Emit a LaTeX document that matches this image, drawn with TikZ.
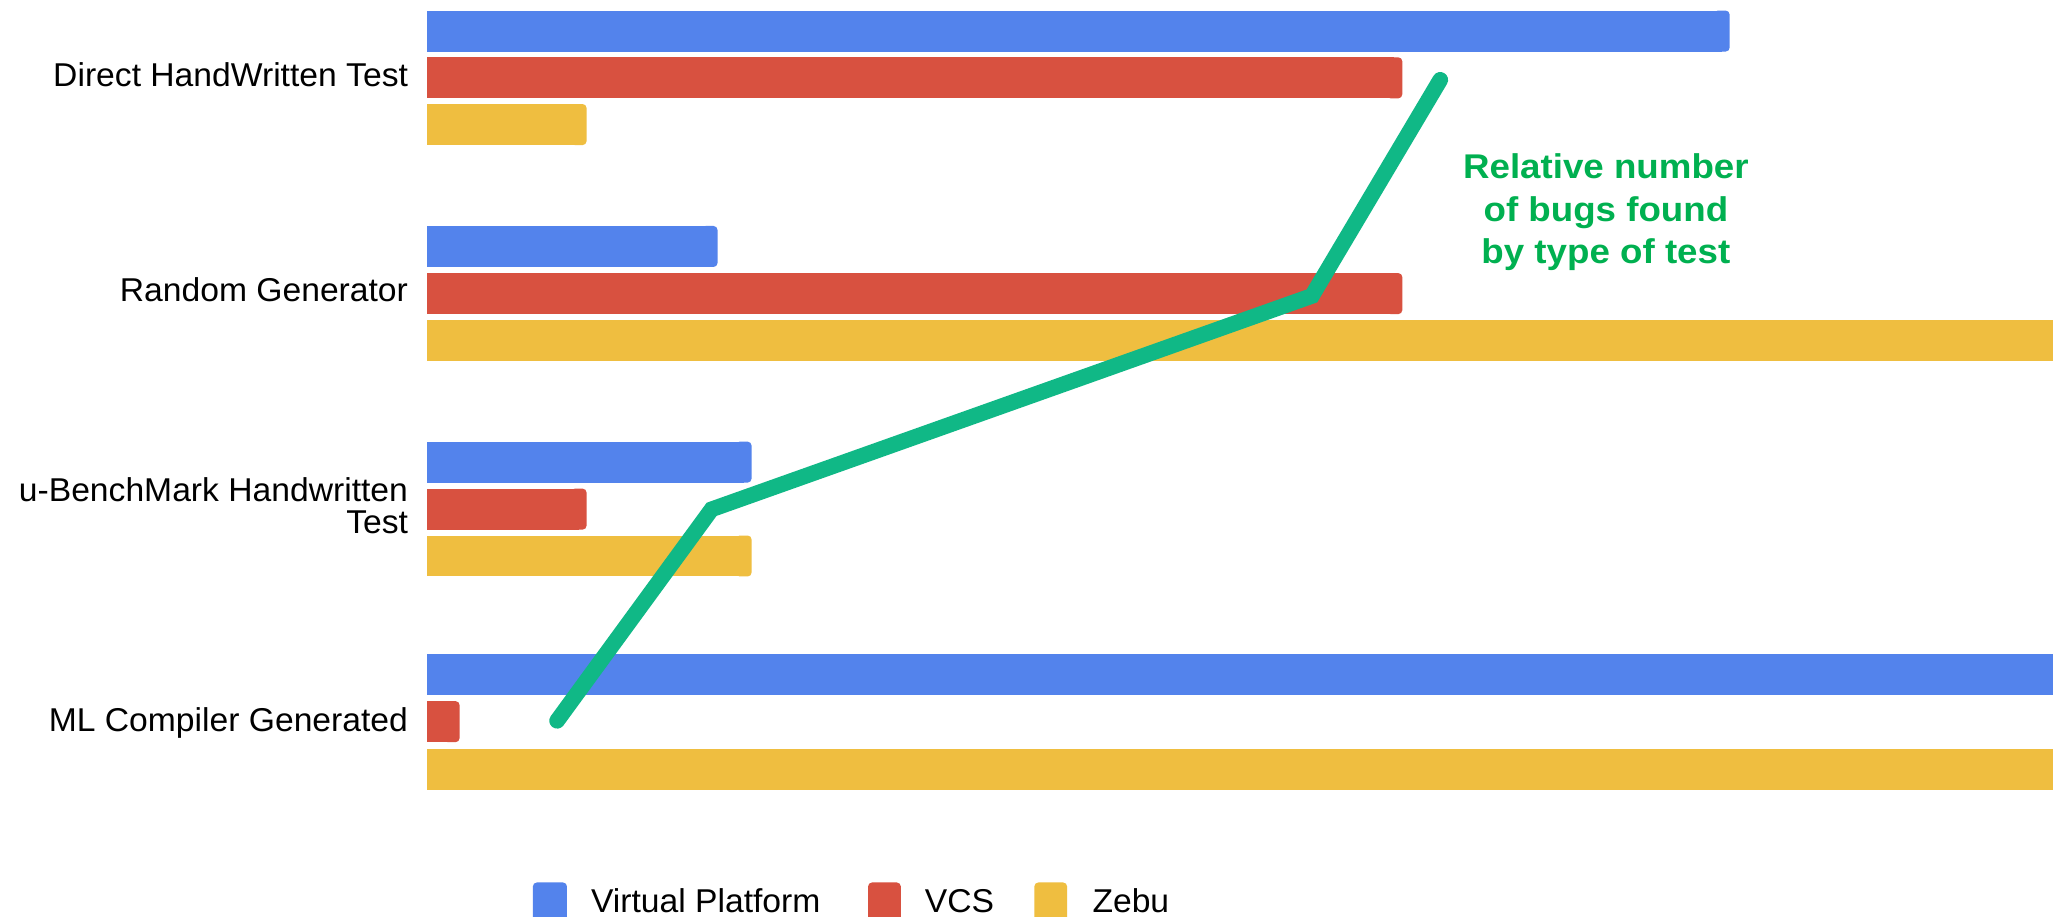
\documentclass[tikz,border=0pt]{standalone}
\usepackage{fontspec}
\setmainfont{Liberation Sans}
\newfontfamily\labfont[FakeStretch=1.02]{Liberation Sans}
\newfontfamily\notefont[FakeStretch=1.07]{Liberation Sans}
\definecolor{vpblue}{RGB}{83,131,236}
\definecolor{vcsred}{RGB}{216,81,64}
\definecolor{zebuyellow}{RGB}{239,190,64}
\definecolor{trendgreen}{RGB}{16,184,134}
\definecolor{notegreen}{RGB}{0,176,80}
\newcommand\chartbar[3]{% color, top y, right x
  \fill[#1] (326,#2) rectangle ({#3-6},{#2+31.3});
  \fill[#1,rounded corners=1.5pt] ({#3-12},#2) rectangle (#3,{#2+31.3});
}
\begin{document}
\begin{tikzpicture}[x=0.5pt,y=-0.5pt,
  lab/.style={font=\labfont\fontsize{12.6pt}{12.1pt}\selectfont, inner sep=0pt, text=black},
  note/.style={font=\notefont\bfseries\fontsize{13.1pt}{16.3pt}\selectfont, text=notegreen, align=center, inner sep=0pt},
  trend/.style={draw=trendgreen, line width=6pt, line cap=round, line join=miter},
  legsq/.style={rounded corners=1.5pt}]
\useasboundingbox (0,0) rectangle (1568,700);
\fill[white] (0,0) rectangle (1568,700);

% group 1: Direct HandWritten Test
\chartbar{vpblue}{8.1}{1321}
\chartbar{vcsred}{43.8}{1071}
\chartbar{zebuyellow}{79.5}{448}
% group 2: Random Generator
\chartbar{vpblue}{172.6}{548}
\chartbar{vcsred}{208.6}{1071}
\fill[zebuyellow] (326,244.2) rectangle (1568,275.5);
% group 3: u-BenchMark Handwritten Test
\chartbar{vpblue}{337.3}{574}
\chartbar{vcsred}{373.2}{448}
\chartbar{zebuyellow}{409}{574}
% group 4: ML Compiler Generated
\fill[vpblue] (326,499.2) rectangle (1568,530.6);
\chartbar{vcsred}{535.5}{351}
\fill[zebuyellow] (326,571.7) rectangle (1568,603.2);

% category labels
\node[lab, anchor=base east] (ldirect) at (312,66.2) {Direct HandWritten Test};
\node[lab, anchor=base east] (lrandom) at (312,230.4) {Random Generator};
\node[lab, anchor=north east, align=right] (lbench) at (312,364.5) {u-BenchMark Handwritten\\Test};
\node[lab, anchor=base east] (lml) at (312,558.4) {ML Compiler Generated};

% trend line
\coordinate (t1) at (425.5,550.5);
\coordinate (t2) at (543.5,389);
\coordinate (t3) at (1002,226);
\coordinate (t4) at (1100,61);
\draw[trend] (t1) -- (t2) -- (t3) -- (t4);

% annotation
\node[note, anchor=north] (note) at (1226.5,117) {Relative number\\of bugs found\\by type of test};

% legend
\fill[vpblue, legsq] (407,674) rectangle (433,706);
\node[lab, anchor=base west] (lgvp) at (451,697) {Virtual Platform};
\fill[vcsred, legsq] (663,674) rectangle (688,706);
\node[lab, anchor=base west] (lgvcs) at (706,697) {VCS};
\fill[zebuyellow, legsq] (790,674) rectangle (815,706);
\node[lab, anchor=base west] (lgzebu) at (834,697) {Zebu};
\end{tikzpicture}
\end{document}
